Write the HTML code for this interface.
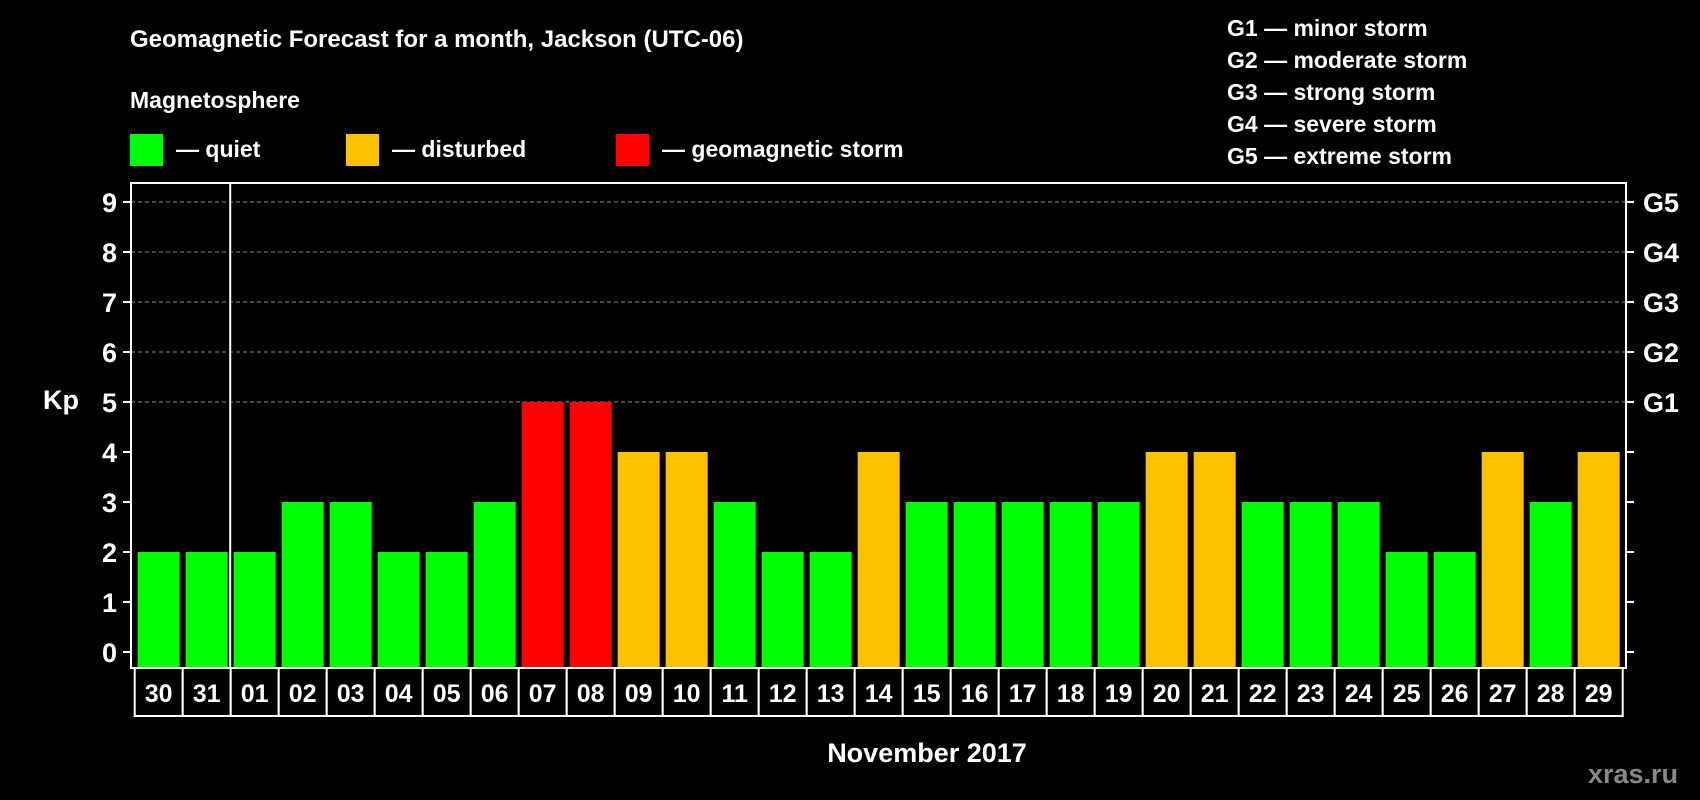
<!DOCTYPE html>
<html><head><meta charset="utf-8"><style>
html,body{margin:0;padding:0;background:#000;}
svg{display:block;font-family:"Liberation Sans",Arial,sans-serif;font-weight:bold;}
</style></head><body>
<svg id="chart" width="1700" height="800" viewBox="0 0 1700 800" xmlns="http://www.w3.org/2000/svg">
<rect width="1700" height="800" fill="#000"/>
<text x="130" y="47" fill="#fff" font-size="24">Geomagnetic Forecast for a month, Jackson (UTC-06)</text>
<text x="130" y="108" fill="#fff" font-size="23">Magnetosphere</text>
<rect x="130" y="134" width="33" height="32" fill="#00ff00"/>
<text x="176" y="157" fill="#fff" font-size="23">— quiet</text>
<rect x="346" y="134" width="33" height="32" fill="#ffc000"/>
<text x="392" y="157" fill="#fff" font-size="23">— disturbed</text>
<rect x="616" y="134" width="33" height="32" fill="#ff0000"/>
<text x="662" y="157" fill="#fff" font-size="23">— geomagnetic storm</text>
<g fill="#fff" font-size="23">
<text x="1227" y="36">G1 — minor storm</text>
<text x="1227" y="68">G2 — moderate storm</text>
<text x="1227" y="100">G3 — strong storm</text>
<text x="1227" y="132">G4 — severe storm</text>
<text x="1227" y="164">G5 — extreme storm</text>
</g>
<text x="43" y="409" fill="#fff" font-size="27">Kp</text>
<text x="927" y="762" fill="#fff" font-size="27" text-anchor="middle">November 2017</text>
<text x="1678" y="783" fill="#888" font-size="27" text-anchor="end">xras.ru</text>
<g id="plot"></g>
</svg>
<script>
const days = ["30","31","01","02","03","04","05","06","07","08","09","10","11","12","13","14","15","16","17","18","19","20","21","22","23","24","25","26","27","28","29"];
const kp = [2,2,2,3,3,2,2,3,5,5,4,4,3,2,2,4,3,3,3,3,3,4,4,3,3,3,2,2,4,3,4];
const yTicks = ["0","1","2","3","4","5","6","7","8","9"];
const gLabels = ["G1","G2","G3","G4","G5"];
const NS="http://www.w3.org/2000/svg";
const g=document.getElementById('plot');
const L=131,R=1626,T=183,B=668,cellL=134.7,cellW=48.0;
const y=v=>652-v*50;
const x=i=>cellL+i*cellW;
function mk(t,a){const e=document.createElementNS(NS,t);for(const k in a)e.setAttribute(k,a[k]);g.appendChild(e);return e;}
// grid
for(let v=5;v<=9;v++){
 const l=mk('line',{x1:L,x2:R,y1:y(v),y2:y(v),stroke:'#888','stroke-dasharray':'4,3','stroke-width':1});
 
 
}
// bars
kp.forEach((v,i)=>{
 const c=v>=5?'#ff0000':(v>=4?'#ffc000':'#00ff00');
 const r=mk('rect',{x:x(i)+3,y:y(v),width:42,height:B-y(v),fill:c});
 
 
});
// frame
const f=mk('rect',{x:L,y:T,width:R-L,height:B-T,fill:'none',stroke:'#fff','stroke-width':2});


const sep=mk('line',{x1:x(2)-0.5,x2:x(2)-0.5,y1:T,y2:B,stroke:'#fff','stroke-width':2});


// y ticks
yTicks.forEach((t,i)=>{
 const v=+t;
 mk('line',{x1:L-8,x2:L,y1:y(v),y2:y(v),stroke:'#fff','stroke-width':2});
 mk('line',{x1:R,x2:R+8,y1:y(v),y2:y(v),stroke:'#fff','stroke-width':2});
 const tx=mk('text',{x:L-14,y:y(v)+10,fill:'#fff','font-size':27,'text-anchor':'end'});
 tx.textContent=t;
 
 
});
gLabels.forEach((t,i)=>{
 const tx=mk('text',{x:R+17,y:y(5+i)+10,fill:'#fff','font-size':27});
 tx.textContent=t;
 
 
});
// x labels
days.forEach((d,i)=>{
 const r=mk('rect',{x:x(i),y:B,width:cellW,height:48,fill:'#000',stroke:'#fff','stroke-width':2});
 
 
 const tx=mk('text',{x:x(i)+cellW/2,y:B+34,fill:'#fff','font-size':25,'text-anchor':'middle'});
 tx.textContent=d;
 
 
});
</script>
</body></html>
